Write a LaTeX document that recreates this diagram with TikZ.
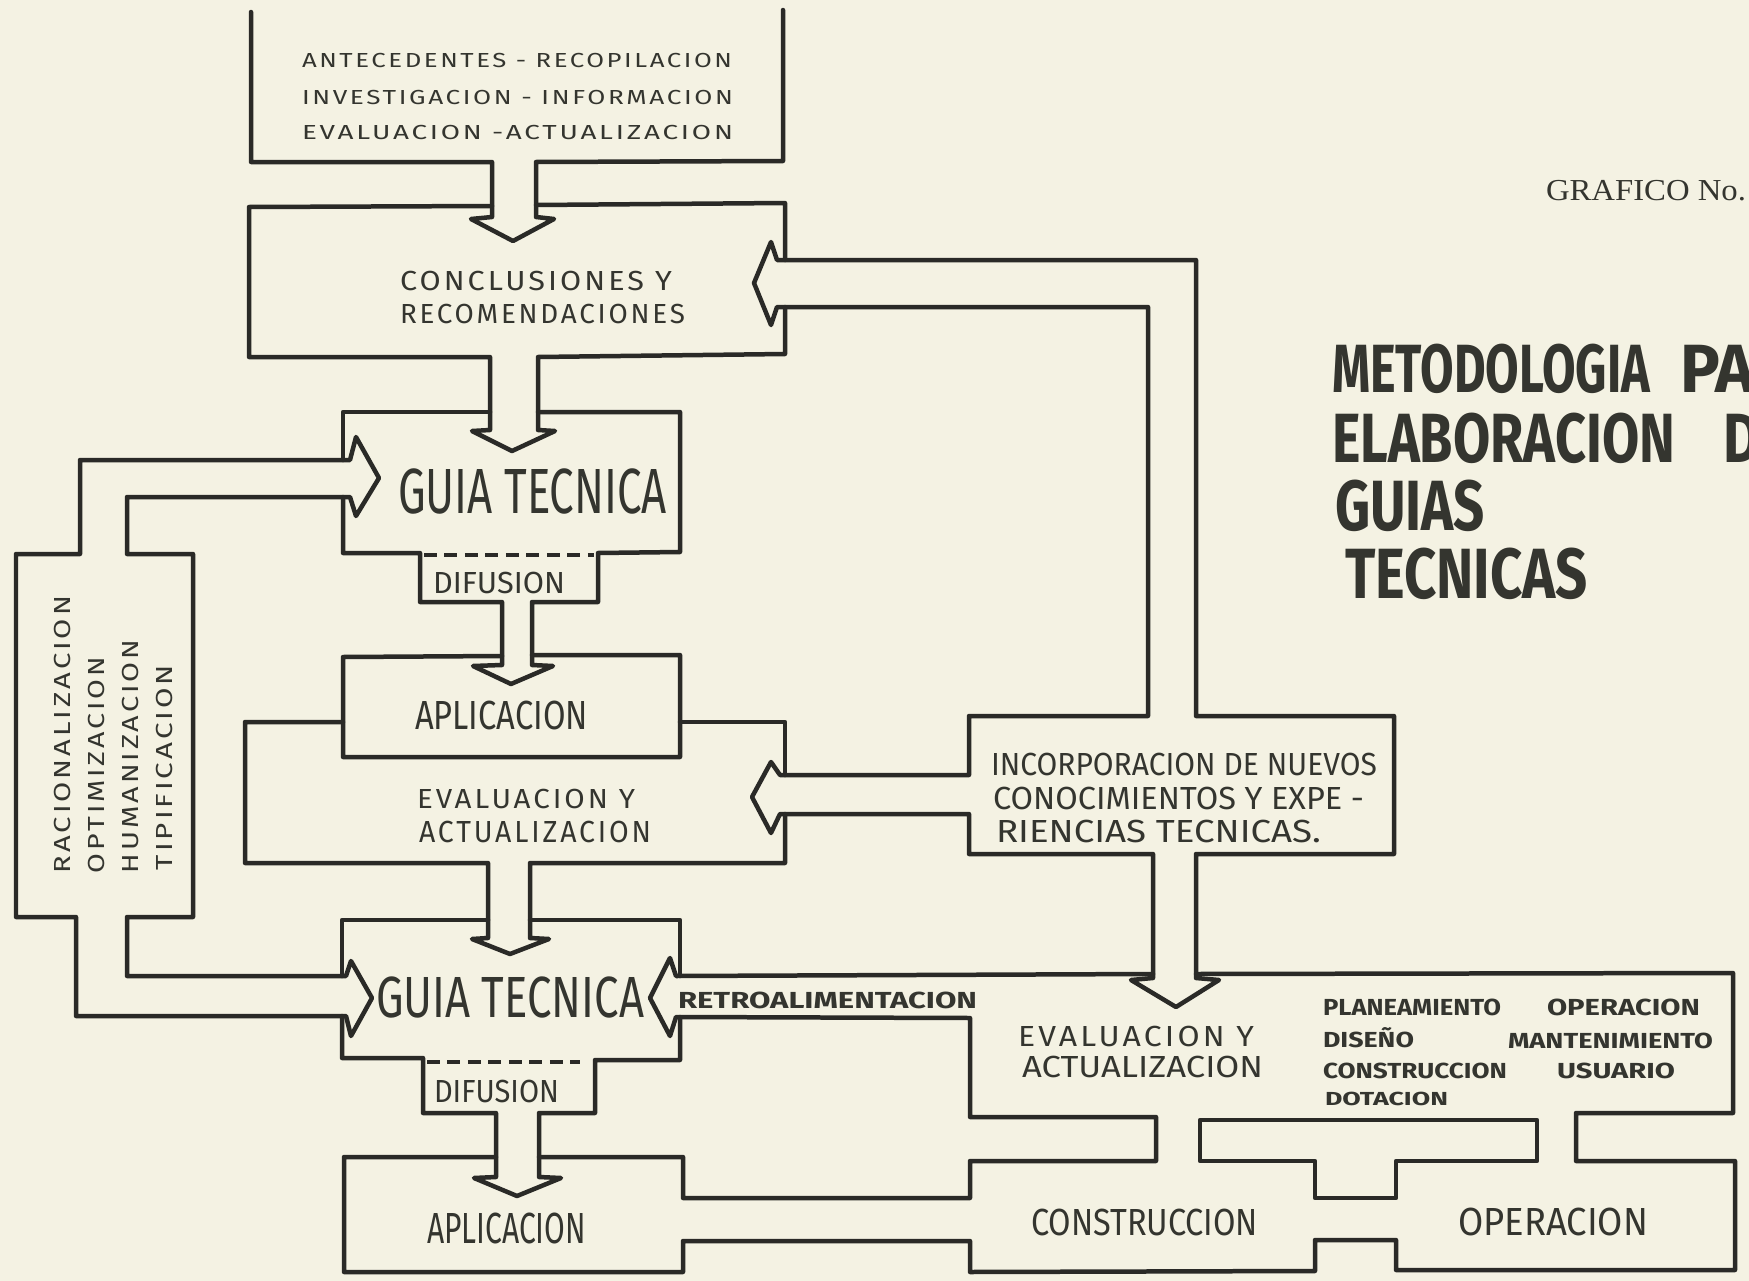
\documentclass[tikz,border=0pt]{standalone}
\usepackage{fontspec}
\setmainfont{Fira Sans}
\newfontfamily\spacedface{Fira Sans}[LetterSpace=10]
\newfontfamily\serifface{Liberation Serif}
\usepackage{graphicx}

\definecolor{paper}{HTML}{F4F2E3}
\definecolor{ink}{HTML}{2A2A27}
\definecolor{textink}{HTML}{34352F}

% one drawing unit = one pixel of the sheet
\newlength\pxu
\setlength\pxu{0.02cm}
% text fitted to a given width and cap height (in drawing units)
\newcommand\fitt[3]{\resizebox{#1\pxu}{#2\pxu}{\vphantom{H}\smash{#3}}}

\tikzset{
  outline/.style={draw=ink, line width=0.09cm, line join=round, line cap=round},
  dashline/.style={draw=ink, line width=0.09cm, dash pattern=on 0.26cm off 0.15cm},
  lbl/.style={anchor=base west, inner sep=0pt, outer sep=0pt, text=textink},
}

\begin{document}
\begin{tikzpicture}[x=0.02cm, y=-0.02cm]
\useasboundingbox (0,0) rectangle (1749,1281);
\fill[paper] (0,0) rectangle (1749,1281);
\clip (0,0) rectangle (1749,1281);

% ---------- source box (open at the top) with arrow down ----------
\draw[outline] (251,12) -- (251,162) -- (492,162) -- (492,217) -- (471,219) -- (513,241)
  -- (554,219) -- (536,217) -- (536,162) -- (783,161) -- (783,10);

% ---------- conclusions box ----------
\draw[outline] (492,206) -- (249,207) -- (249,357) -- (490,357) -- (490,430) -- (472,431)
  -- (512,451) -- (555,431) -- (538,430) -- (538,357) -- (785,354) -- (785,307);
\draw[outline] (785,260) -- (785,203) -- (536,205);

% ---------- feedback loop through the knowledge box ----------
\draw[outline] (777,260) -- (1196,260) -- (1196,716) -- (1394,716) -- (1394,854) -- (1196,854)
  -- (1196,978) -- (1219,980) -- (1176,1007) -- (1131,980) -- (1153,978) -- (1153,854)
  -- (969,854) -- (969,814) -- (780,814) -- (771,833) -- (752,797) -- (771,762) -- (780,775)
  -- (969,775) -- (969,716) -- (1148,716) -- (1148,307) -- (777,307) -- (771,325)
  -- (754,283) -- (771,242) -- cycle;

% ---------- first technical guide + diffusion ----------
\draw[outline] (490,412) -- (343,412) -- (343,460);
\draw[outline] (343,497) -- (343,553) -- (420,553) -- (420,602) -- (502,602) -- (502,665)
  -- (473,666) -- (511,684) -- (553,666) -- (532,665) -- (532,602) -- (598,602) -- (598,553)
  -- (680,552) -- (680,412) -- (538,412);
\draw[dashline] (424,555) -- (594,555);

% ---------- first application ----------
\draw[outline] (502,656) -- (343,657) -- (343,757) -- (680,757) -- (680,655) -- (532,655);

% ---------- first evaluation ----------
\draw[outline] (343,722) -- (245,722) -- (245,863) -- (488,863) -- (488,938) -- (472,939)
  -- (510,954) -- (549,939) -- (530,938) -- (530,863) -- (785,863) -- (785,814);
\draw[outline] (785,775) -- (785,722) -- (680,722);

% ---------- criteria box with its two arrows ----------
\draw[outline] (80,554) -- (80,460) -- (350,460) -- (356,437) -- (379,478) -- (356,516)
  -- (350,497) -- (127,497) -- (127,554) -- (193,554) -- (193,917) -- (127,917) -- (127,976)
  -- (346,976) -- (351,961) -- (372,998) -- (351,1036) -- (346,1016) -- (76,1016) -- (76,917)
  -- (16,917) -- (16,554) -- cycle;

% ---------- second technical guide + diffusion ----------
\draw[outline] (488,920) -- (342,920) -- (342,976);
\draw[outline] (342,1016) -- (342,1058) -- (423,1058) -- (423,1113) -- (496,1113) -- (496,1177)
  -- (474,1178) -- (517,1196) -- (561,1178) -- (539,1177) -- (539,1113) -- (595,1113)
  -- (595,1060) -- (680,1060) -- (680,1017);
\draw[outline] (680,976) -- (680,920) -- (530,920);
\draw[dashline] (427,1062) -- (580,1062);

% ---------- feedback pipe and second evaluation ----------
\draw[outline] (1153,974) -- (676,976) -- (670,958) -- (650,998) -- (670,1036) -- (676,1017)
  -- (970,1018) -- (970,1117) -- (1156,1117) -- (1156,1161) -- (970,1161) -- (970,1198)
  -- (683,1198) -- (683,1157) -- (539,1157);
\draw[outline] (1196,974) -- (1733,973) -- (1733,1113) -- (1576,1113) -- (1576,1161)
  -- (1735,1161) -- (1735,1270) -- (1396,1270) -- (1396,1240) -- (1315,1240) -- (1315,1271)
  -- (970,1272) -- (970,1241) -- (683,1241) -- (683,1272) -- (344,1272) -- (344,1157)
  -- (496,1157);
\draw[outline] (1200,1161) -- (1200,1120) -- (1537,1120) -- (1537,1161) -- (1396,1161)
  -- (1396,1198) -- (1315,1198) -- (1315,1161) -- cycle;

% ---------- labels ----------
\node[lbl] (src1) at (302,68) {\fitt{430}{14}{\spacedface ANTECEDENTES - RECOPILACION}};
\node[lbl] (src2) at (302,104) {\fitt{431}{14}{\spacedface INVESTIGACION - INFORMACION}};
\node[lbl] (src3) at (302,139) {\fitt{431}{14}{\spacedface EVALUACION -ACTUALIZACION}};

\node[lbl] (concl1) at (400,290) {\fitt{272}{19}{\spacedface CONCLUSIONES Y}};
\node[lbl] (concl2) at (400,323) {\fitt{285}{19}{\spacedface RECOMENDACIONES}};

\node[lbl] (guia1) at (398,513) {\fitt{269}{44}{GUIA TECNICA}};
\node[lbl] (dif1) at (433,593) {\fitt{132}{21}{DIFUSION}};
\node[lbl] (apl1) at (415,729) {\fitt{173}{28}{APLICACION}};

\node[lbl] (ev1a) at (417,808) {\fitt{218}{19}{\spacedface EVALUACION Y}};
\node[lbl] (ev1b) at (419,842) {\fitt{232}{21}{\spacedface ACTUALIZACION}};

\node[lbl] (inc1) at (991,775) {\fitt{386}{22}{INCORPORACION DE NUEVOS}};
\node[lbl] (inc2) at (993,809) {\fitt{371}{22}{CONOCIMIENTOS Y EXPE -}};
\node[lbl] (inc3) at (996,842) {\fitt{325}{22}{RIENCIAS TECNICAS.}};

\node[lbl] (guia2) at (376,1017) {\fitt{268}{40}{GUIA TECNICA}};
\node[lbl] (retro) at (678,1008) {\fitt{299}{16}{\bfseries RETROALIMENTACION}};
\node[lbl] (dif2) at (434,1102) {\fitt{125}{22}{DIFUSION}};
\node[lbl] (apl2) at (427,1243) {\fitt{159}{30}{APLICACION}};

\node[lbl] (ev2a) at (1018,1046) {\fitt{236}{20}{\spacedface EVALUACION Y}};
\node[lbl] (ev2b) at (1022,1077) {\fitt{241}{21}{ACTUALIZACION}};

\node[lbl] (plan) at (1323,1015) {\fitt{178}{16}{\bfseries PLANEAMIENTO}};
\node[lbl] (oper) at (1547,1015) {\fitt{153}{16}{\bfseries OPERACION}};
\node[lbl] (dis)  at (1323,1047) {\fitt{91}{15}{\bfseries DISEÑO}};
\node[lbl] (mant) at (1508,1048) {\fitt{205}{15}{\bfseries MANTENIMIENTO}};
\node[lbl] (cons) at (1323,1078) {\fitt{184}{15}{\bfseries CONSTRUCCION}};
\node[lbl] (usu)  at (1557,1078) {\fitt{118}{15}{\bfseries USUARIO}};
\node[lbl] (dot)  at (1325,1105) {\fitt{123}{13}{\bfseries DOTACION}};

\node[lbl] (constr) at (1031,1235) {\fitt{227}{26}{CONSTRUCCION}};
\node[lbl] (operac) at (1458,1235) {\fitt{190}{27}{OPERACION}};

\node[lbl, rotate=90] (rac) at (70,873) {\fitt{277}{16}{\spacedface RACIONALIZACION}};
\node[lbl, rotate=90] (opt) at (104,873) {\fitt{216}{16}{\spacedface OPTIMIZACION}};
\node[lbl, rotate=90] (hum) at (138,873) {\fitt{233}{16}{\spacedface HUMANIZACION}};
\node[lbl, rotate=90] (tip) at (172,870) {\fitt{205}{16}{\spacedface TIPIFICACION}};

% ---------- title ----------
\node[lbl] (graf) at (1546,200) {\fitt{200}{21}{\serifface GRAFICO No.}};
\node[lbl] (t1a) at (1332,392) {\fitt{318}{47}{\bfseries METODOLOGIA}};
\node[lbl] (t1b) at (1680,392) {\fitt{75}{47}{\bfseries PA}};
\node[lbl] (t2a) at (1332,462) {\fitt{343}{48}{\bfseries ELABORACION}};
\node[lbl] (t2b) at (1723,462) {\fitt{66}{48}{\bfseries DE}};
\node[lbl] (t3)  at (1335,530) {\fitt{150}{49}{\bfseries GUIAS}};
\node[lbl] (t4)  at (1345,598) {\fitt{243}{49}{\bfseries TECNICAS}};
\end{tikzpicture}
\end{document}
